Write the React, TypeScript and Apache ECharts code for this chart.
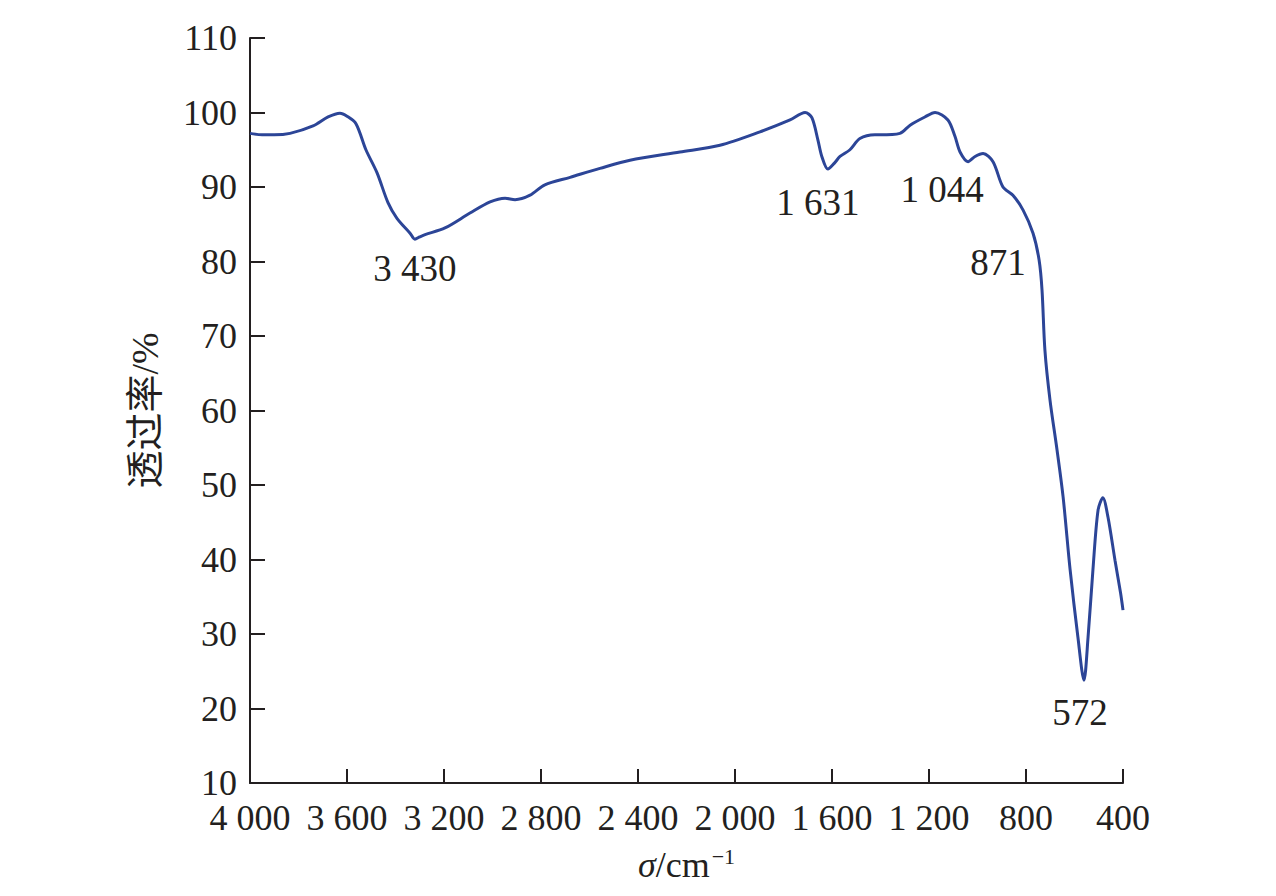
import React, { useEffect, useRef } from "react";
import * as echarts from "echarts";

// Wavenumber (cm^-1) and transmittance (%)
const wavenumbers = [
  4000, 3950, 3900, 3835, 3740, 3678, 3629, 3600, 3563, 3522, 3476, 3431, 3394,
  3340, 3320, 3300, 3278, 3196, 3093, 3010, 2948, 2907, 2845, 2784, 2680, 2557,
  2433, 2227, 2062, 1897, 1773, 1711, 1683, 1658, 1642, 1617, 1590, 1567, 1526,
  1485, 1423, 1402, 1320, 1278, 1217, 1175, 1122, 1093, 1072, 1039, 1010, 977,
  936, 895, 854, 812, 771, 746, 734, 722, 701, 672, 647, 618, 586, 561, 544,
  524, 503, 483, 462, 433, 410, 400,
];
const transmittance = [
  97.2, 97.0, 97.0, 97.2, 98.2, 99.4, 99.9, 99.5, 98.5, 95.0, 91.9, 87.9, 85.8,
  83.8, 83.0, 83.3, 83.6, 84.5, 86.5, 88.0, 88.5, 88.3, 88.9, 90.3, 91.3, 92.5,
  93.6, 94.7, 95.6, 97.4, 99.0, 100.0, 99.3, 96.3, 94.1, 92.4, 93.2, 94.1, 95.0,
  96.5, 97.0, 97.0, 97.2, 98.3, 99.4, 100.0, 99.0, 96.8, 94.7, 93.4, 94.1, 94.5,
  93.4, 90.0, 88.9, 86.9, 83.8, 80.2, 76.2, 68.1, 61.4, 54.7, 48.4, 38.6, 29.6,
  23.8, 29.6, 38.6, 46.6, 48.3, 45.7, 39.9, 35.5, 33.2,
];

// Peak annotations (label centre in data coordinates)
const annotationX = [3320, 1658, 1146, 915, 577];
const annotationY = [79.1, 87.9, 89.6, 79.8, 19.5];
const annotationText = ["3 430", "1 631", "1 044", "871", "572"];

// Axis ticks
const xTickValues = [4000, 3600, 3200, 2800, 2400, 2000, 1600, 1200, 800, 400];
const xTickLabels = ["4 000", "3 600", "3 200", "2 800", "2 400", "2 000", "1 600", "1 200", "800", "400"];
const yTickValues = [10, 20, 30, 40, 50, 60, 70, 80, 90, 100, 110];
const yTickLabels = ["10", "20", "30", "40", "50", "60", "70", "80", "90", "100", "110"];

const SERIF = "'Liberation Serif', 'Times New Roman', 'Noto Sans CJK SC', serif";
const INK = "#231f20";

export default function App() {
  const ref = useRef<HTMLDivElement>(null);

  useEffect(() => {
    if (!ref.current) return;
    const chart = echarts.init(ref.current, undefined, { renderer: "svg" });
    const lineData = wavenumbers.map((w, i) => [w, transmittance[i]]);
    const annData = annotationX.map((x, i) => ({
      value: [x, annotationY[i]],
      name: annotationText[i],
    }));

    chart.setOption({
      animation: false,
      backgroundColor: "#ffffff",
      grid: { left: 250, right: 153, top: 38, bottom: 113, containLabel: false },
      xAxis: {
        type: "value",
        min: 400,
        max: 4000,
        interval: 400,
        inverse: true,
        name: "{i|σ}{n|/cm}{s|−1}",
        nameLocation: "middle",
        nameGap: 62,
        nameTextStyle: {
          rich: {
            i: { fontFamily: SERIF, fontSize: 36, fontStyle: "italic", color: INK },
            n: { fontFamily: SERIF, fontSize: 36, color: INK },
            s: { fontFamily: SERIF, fontSize: 22, color: INK, verticalAlign: "top", padding: [0, 0, 18, 2] },
          },
        },
        axisLine: { show: true, lineStyle: { color: INK, width: 2 } },
        axisTick: { show: true, inside: true, length: 14, lineStyle: { color: INK, width: 2 } },
        splitLine: { show: false },
        axisLabel: {
          margin: 17,
          fontFamily: SERIF,
          fontSize: 36,
          color: INK,
          formatter: (v: number) => {
            const k = xTickValues.indexOf(v);
            return k >= 0 ? xTickLabels[k] : "";
          },
        },
      },
      yAxis: {
        type: "value",
        min: 10,
        max: 110,
        interval: 10,
        name: "透过率/%",
        nameLocation: "middle",
        nameGap: 86,
        nameRotate: 90,
        nameTextStyle: { fontFamily: SERIF, fontSize: 38, color: INK },
        axisLine: { show: true, lineStyle: { color: INK, width: 2 } },
        axisTick: { show: true, inside: true, length: 15, lineStyle: { color: INK, width: 2 } },
        splitLine: { show: false },
        axisLabel: {
          margin: 13,
          fontFamily: SERIF,
          fontSize: 36,
          color: INK,
          formatter: (v: number) => {
            const k = yTickValues.indexOf(v);
            return k >= 0 ? yTickLabels[k] : "";
          },
        },
      },
      series: [
        {
          type: "line",
          data: lineData,
          showSymbol: false,
          symbol: "none",
          smooth: 0.3,
          lineStyle: { color: "#2c4597", width: 3 },
          z: 3,
        },
        {
          type: "scatter",
          data: annData,
          symbolSize: 1,
          itemStyle: { color: "rgba(0,0,0,0)" },
          label: {
            show: true,
            position: "inside",
            formatter: (p: any) => p.name,
            fontFamily: SERIF,
            fontSize: 37,
            color: INK,
            opacity: 1,
            textBorderWidth: 0,
            textBorderColor: "transparent",
          },
          emphasis: { disabled: true },
          z: 4,
        },
      ],
    });

    return () => chart.dispose();
  }, []);

  return (
    <div
      ref={ref}
      style={{ position: "fixed", left: 0, top: 0, width: 1276, height: 896, background: "#fff" }}
    />
  );
}
